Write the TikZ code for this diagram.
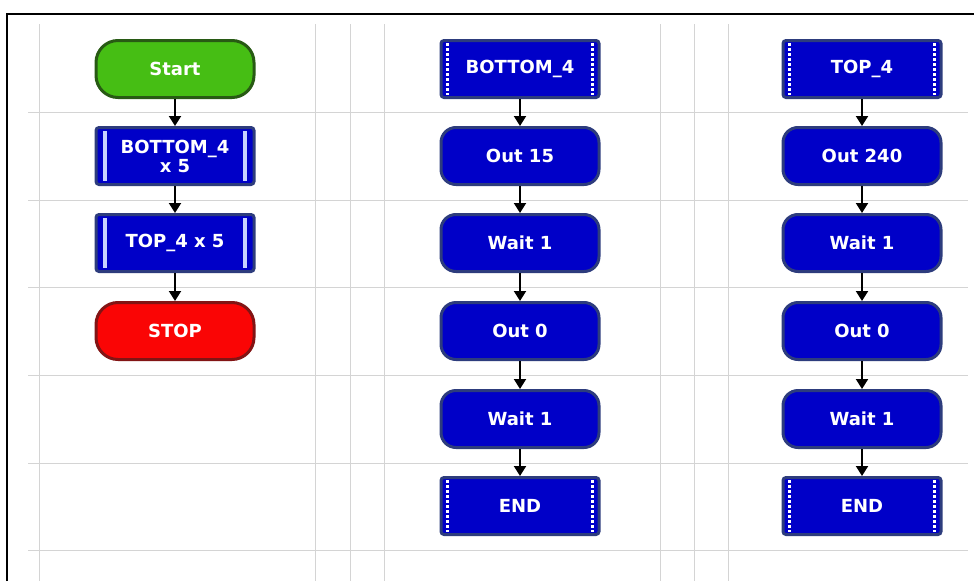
\documentclass[tikz,border=0pt]{standalone}
\usepackage{fontspec}
\setmainfont{DejaVu Sans}
\usetikzlibrary{arrows.meta}
\definecolor{boxblue}{RGB}{0,0,200}
\definecolor{boxedge}{RGB}{45,60,125}
\definecolor{startgreen}{RGB}{70,190,20}
\definecolor{startedge}{RGB}{40,90,20}
\definecolor{stopred}{RGB}{250,5,5}
\definecolor{stopedge}{RGB}{130,20,20}
\definecolor{gridgray}{RGB}{212,212,212}
\definecolor{barlight}{RGB}{200,210,255}
\tikzset{
  blk/.style={rectangle, minimum width=158pt, minimum height=57pt, inner sep=0pt,
    fill=boxblue, draw=boxedge, line width=3pt, rounded corners=3pt,
    text=white, font=\bfseries\fontsize{18}{19}\selectfont, align=center},
  proc/.style={blk, rounded corners=15pt},
  term/.style={blk, rounded corners=22pt},
  gostart/.style={term, fill=startgreen, draw=startedge},
  gostop/.style={term, fill=stopred, draw=stopedge},
  solidbar/.style={draw=barlight, line width=4pt},
  dotbar/.style={draw=white, line width=3pt, dash pattern=on 2.5pt off 2.5pt},
  flow/.style={draw=black, line width=2pt, -{Triangle[width=12pt,length=10pt]}},
  gridline/.style={draw=gridgray, line width=1pt}
}
\begin{document}
\begin{tikzpicture}[x=1pt,y=-1pt]
\useasboundingbox (0,0) rectangle (974,581);
\fill[white] (0,0) rectangle (974,581);
% grid
\foreach \gy in {112,200,287,375,463,550} \draw[gridline] (28,\gy) -- (968,\gy);
\foreach \gx in {39,315,350,384,660,694,728} \draw[gridline] (\gx,24) -- (\gx,581);
% frame
\draw[line width=2pt] (7,581) -- (7,14) -- (974,14);
% column 1
\node[gostart] (s) at (175,69) {Start};
\node[blk] (m1) at (175,156) {BOTTOM\_4\\x 5};
\node[blk] (m2) at (175,243) {TOP\_4 x 5};
\node[gostop] (e) at (175,331) {STOP};
% column 2
\node[blk] (b0) at (520,69) {BOTTOM\_4};
\node[proc] (b1) at (520,156) {Out 15};
\node[proc] (b2) at (520,243) {Wait 1};
\node[proc] (b3) at (520,331) {Out 0};
\node[proc] (b4) at (520,419) {Wait 1};
\node[blk] (b5) at (520,506) {END};
% column 3
\node[blk] (t0) at (862,69) {TOP\_4};
\node[proc] (t1) at (862,156) {Out 240};
\node[proc] (t2) at (862,243) {Wait 1};
\node[proc] (t3) at (862,331) {Out 0};
\node[proc] (t4) at (862,419) {Wait 1};
\node[blk] (t5) at (862,506) {END};
% macro bars
\foreach \n in {m1,m2} {
  \draw[solidbar] ([xshift=10pt,yshift=-5pt]\n.north west) -- ([xshift=10pt,yshift=5pt]\n.south west);
  \draw[solidbar] ([xshift=-11pt,yshift=-5pt]\n.north east) -- ([xshift=-11pt,yshift=5pt]\n.south east);
}
% subroutine dotted bars
\foreach \n in {b0,b5,t0,t5} {
  \draw[dotbar] ([xshift=8pt,yshift=-4pt]\n.north west) -- ([xshift=8pt,yshift=4pt]\n.south west);
  \draw[dotbar] ([xshift=-8pt,yshift=-4pt]\n.north east) -- ([xshift=-8pt,yshift=4pt]\n.south east);
}
% connectors
\draw[flow] (s) -- (m1);
\draw[flow] (m1) -- (m2);
\draw[flow] (m2) -- (e);
\draw[flow] (b0) -- (b1);
\draw[flow] (b1) -- (b2);
\draw[flow] (b2) -- (b3);
\draw[flow] (b3) -- (b4);
\draw[flow] (b4) -- (b5);
\draw[flow] (t0) -- (t1);
\draw[flow] (t1) -- (t2);
\draw[flow] (t2) -- (t3);
\draw[flow] (t3) -- (t4);
\draw[flow] (t4) -- (t5);
\end{tikzpicture}
\end{document}
